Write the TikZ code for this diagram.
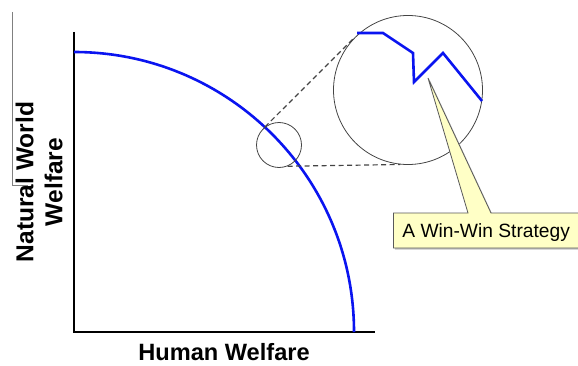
\documentclass[tikz,border=0pt]{standalone}
\usepackage{fontspec}
\setmainfont{Liberation Sans}
\usepackage{xcolor}
\usetikzlibrary{positioning,calc,shapes.callouts,shadows}
\definecolor{frontierblue}{HTML}{0A14F0}
\definecolor{tagfill}{HTML}{FFFFC6}
\definecolor{lensgray}{HTML}{444444}

\tikzset{
  axisline/.style={line width=2.6pt, black},
  frontier/.style={line width=2.6pt, frontierblue},
  lens/.style={circle, draw=lensgray, line width=0.8pt, inner sep=0pt},
  guide/.style={lensgray, line width=1.2pt, dash pattern=on 5pt off 3.5pt},
  tagbox/.style={rectangle callout, draw=gray!70!black, fill=tagfill, line width=0.8pt,
    callout pointer width=23pt, inner xsep=9pt, text height=13.5pt, text depth=0pt,
    minimum height=35pt, font=\fontsize{19.2}{22}\selectfont,
    drop shadow={shadow xshift=1.5pt, shadow yshift=-1.5pt, fill=gray!60, opacity=0.8}}
}

\begin{document}
\begin{tikzpicture}[x=1pt, y=1pt]
  \useasboundingbox (0,0) rectangle (578,365);

  % Axes
  \coordinate (O) at (74,33);
  \coordinate (ytop) at (74,333);
  \coordinate (xend) at (375,33);
  \draw[axisline] (ytop) -- (O) -- (xend);

  % Frontier curve
  \draw[frontier] (74,313) arc[start angle=90, end angle=0, radius=280];

  % Axis labels
  \node[anchor=base, font=\bfseries\fontsize{23.6}{28}\selectfont] (xlab) at (224,4.5) {Human Welfare};
  \node[rotate=90, align=center, font=\bfseries\fontsize{24.5}{29}\selectfont] (ylab) at (39,183) {Natural World\\Welfare};
  \draw[gray, line width=0.5pt] (12.5,353) -- (12.5,180) -- (28,180);

  % Spot on the curve and its magnified view
  \node[lens, minimum size=45pt] (spot) at (279,220) {};
  \node[lens, minimum size=149pt] (zoom) at (408,275) {};
  \draw[guide] (spot.128) -- (zoom.136);
  \draw[guide] (spot.292) -- (zoom.264);

  % Magnified frontier
  \draw[frontier, line join=miter] (357,332) -- (383,332) -- (413,312) -- (414,283)
    -- (443,312) -- (482,264);

  % Callout
  \coordinate (tip) at (428,287);
  \node[tagbox, anchor=west, callout absolute pointer={(tip)}] (tag) at (393,134.5) {A Win-Win Strategy};
\end{tikzpicture}
\end{document}
